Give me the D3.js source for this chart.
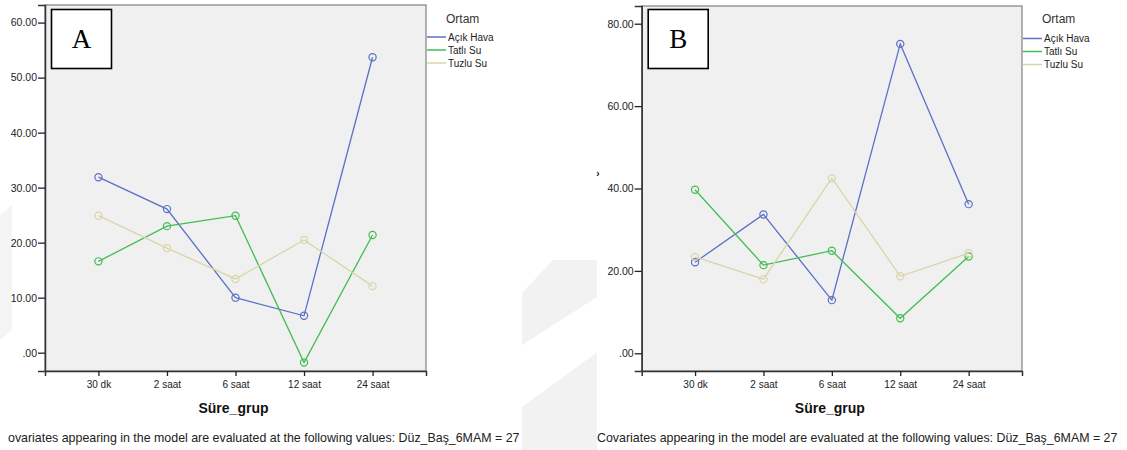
<!DOCTYPE html>
<html>
<head>
<meta charset="utf-8">
<script src="https://cdn.jsdelivr.net/npm/d3@7"></script>
<style>
body { margin: 0; background: #fff; }
svg { display: block; font-family: "Liberation Sans", Arial, sans-serif; }
</style>
</head>
<body>
<svg id="chart" width="1127" height="450"></svg>
<script>
// categories and series
var categories = ['30 dk', '2 saat', '6 saat', '12 saat', '24 saat'];
var seriesNames = ['Açık Hava', 'Tatlı Su', 'Tuzlu Su'];

var acikHavaA = [31.9, 26.1, 10.0, 6.7, 53.7];
var tatliSuA  = [16.6, 23.0, 24.9, -1.8, 21.4];
var tuzluSuA  = [24.9, 19.0, 13.4, 20.5, 12.1];

var acikHavaB = [22.1, 33.7, 12.9, 75.1, 36.2];
var tatliSuB  = [39.7, 21.4, 24.9, 8.5, 23.5];
var tuzluSuB  = [23.4, 18.0, 42.5, 18.7, 24.3];

var yTicksA = [0, 10, 20, 30, 40, 50, 60];
var yTicksB = [0, 20, 40, 60, 80];

var colors = ['#5b70c6', '#41bd52', '#dad5a8'];

var svg = d3.select('#chart');

// faint watermark stripes in the background
var wm = svg.append('g').attr('fill', '#f2f2f2');
wm.append('clipPath').attr('id', 'wmclip')
  .append('rect').attr('x', 522).attr('y', 260).attr('width', 75).attr('height', 190);
var wmg = wm.append('g').attr('clip-path', 'url(#wmclip)');
wmg.append('polygon').attr('points', '553,260 600,260 600,295 522,345 522,293');
wmg.append('polygon').attr('points', '600,350 600,460 522,460 522,407');
svg.append('polygon').attr('points', '0,215 12,205 12,330 0,340').attr('fill', '#f5f5f5');

function drawPanel(opts) {
  var g = svg.append('g');
  var x = d3.scalePoint().domain(categories).range([opts.left, opts.right]).padding(0.78);
  var y = d3.scaleLinear().domain(opts.yDomain).range([371, opts.top]);

  g.append('rect')
    .attr('x', opts.left).attr('y', opts.top)
    .attr('width', opts.right - opts.left).attr('height', 371 - opts.top)
    .attr('fill', '#f0f0f0').attr('stroke', '#808080').attr('stroke-width', 1.2);

  var yAxis = g.append('g')
    .attr('transform', 'translate(' + opts.left + ',0)')
    .call(d3.axisLeft(y).tickValues(opts.yTicks).tickSize(7).tickPadding(1)
      .tickFormat(function(d) { return d === 0 ? '.00' : d3.format('.2f')(d); }));
  yAxis.select('.domain').attr('stroke', '#333').attr('stroke-width', 1.5);
  yAxis.selectAll('.tick line').attr('stroke', '#222').attr('stroke-width', 1.3);
  yAxis.selectAll('.tick text').attr('font-size', 10.5).attr('fill', '#222')
    .attr('font-family', '"Liberation Sans", Arial, sans-serif');

  var xAxis = g.append('g')
    .attr('transform', 'translate(0,371)')
    .call(d3.axisBottom(x).tickSize(5).tickPadding(5));
  xAxis.select('.domain').attr('stroke', '#333').attr('stroke-width', 1.5);
  xAxis.selectAll('.tick line').attr('stroke', '#222').attr('stroke-width', 1.3);
  xAxis.selectAll('.tick text').attr('font-size', 10).attr('fill', '#222')
    .attr('font-family', '"Liberation Sans", Arial, sans-serif');

  var line = d3.line()
    .x(function(d, i) { return x(categories[i]); })
    .y(function(d) { return y(d); });

  opts.series.forEach(function(vals, s) {
    g.append('path').datum(vals)
      .attr('d', line).attr('fill', 'none')
      .attr('stroke', colors[s]).attr('stroke-width', 1.3);
    g.selectAll('circle.s' + s).data(vals).enter()
      .append('circle').attr('class', 's' + s)
      .attr('cx', function(d, i) { return x(categories[i]); })
      .attr('cy', function(d) { return y(d); })
      .attr('r', 3.6)
      .attr('fill', 'none').attr('stroke', colors[s]).attr('stroke-width', 1.2);
  });

  // panel letter box
  g.append('rect')
    .attr('x', opts.left + 6.5).attr('y', 9.5).attr('width', 60).attr('height', 59)
    .attr('fill', '#fff').attr('stroke', '#000').attr('stroke-width', 1.6);
  g.append('text')
    .attr('x', opts.left + 36.5).attr('y', 48)
    .attr('text-anchor', 'middle')
    .attr('font-family', '"Liberation Serif", "Times New Roman", serif')
    .attr('font-size', 27).attr('fill', '#000')
    .text(opts.letter);

  // axis title
  g.append('text')
    .attr('x', (opts.left + opts.right) / 2 - 2).attr('y', 413)
    .attr('text-anchor', 'middle').attr('font-weight', 'bold')
    .attr('font-size', 14).attr('fill', '#111')
    .text('Süre_grup');

  // legend
  var lg = g.append('g');
  lg.append('text')
    .attr('x', opts.right + 20).attr('y', 23)
    .attr('font-size', 12).attr('fill', '#333').text('Ortam');
  seriesNames.forEach(function(name, s) {
    var ly = opts.legendY + s * 13;
    lg.append('line')
      .attr('x1', opts.right + 1).attr('x2', opts.right + 20)
      .attr('y1', ly).attr('y2', ly)
      .attr('stroke', colors[s]).attr('stroke-width', 1.5);
    lg.append('text')
      .attr('x', opts.right + 22).attr('y', ly + 3.5)
      .attr('font-size', 10).attr('fill', '#222').text(name);
  });

  // footnote
  g.append('text')
    .attr('x', opts.noteX).attr('y', 442)
    .attr('font-size', 12.4).attr('fill', '#222')
    .text(opts.note);
}

drawPanel({
  left: 45, right: 426, top: 5,
  yDomain: [-3.33, 63.2], yTicks: yTicksA,
  series: [acikHavaA, tatliSuA, tuzluSuA],
  letter: 'A', legendY: 37, noteX: 8,
  note: 'ovariates appearing in the model are evaluated at the following values: Düz_Baş_6MAM = 27'
});

drawPanel({
  left: 641.7, right: 1022, top: 6,
  yDomain: [-4.3, 84.3], yTicks: yTicksB,
  series: [acikHavaB, tatliSuB, tuzluSuB],
  letter: 'B', legendY: 38.5, noteX: 597,
  note: 'Covariates appearing in the model are evaluated at the following values: Düz_Baş_6MAM = 27'
});

// clipped fragment of the rotated y title on panel B
svg.append('text')
  .attr('x', 598).attr('y', 177)
  .attr('font-size', 10).attr('font-weight', 'bold').attr('fill', '#111')
  .attr('text-anchor', 'middle')
  .text('›');
</script>
</body>
</html>
